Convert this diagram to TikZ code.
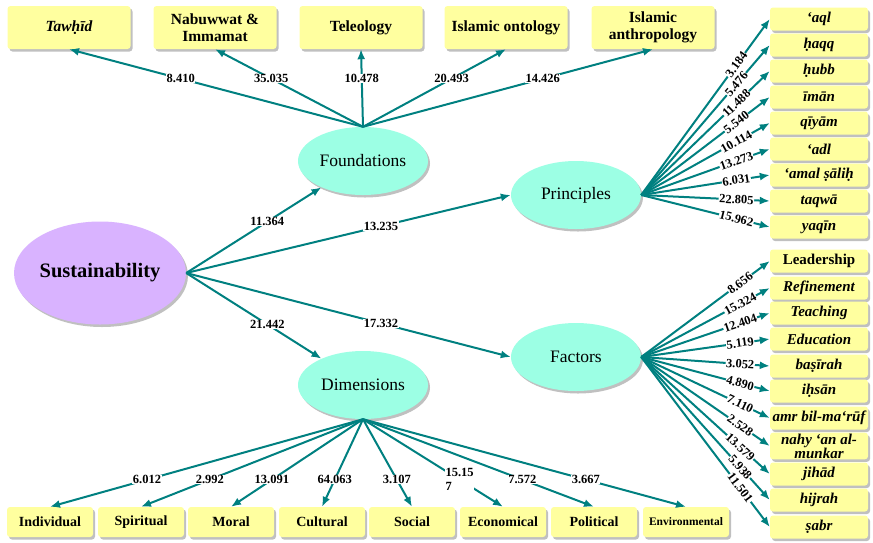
\documentclass[tikz,border=0pt]{standalone}
\usepackage{fontspec}
\setmainfont{Liberation Serif}
\usepackage{tikz}
\usetikzlibrary{arrows.meta}
\usetikzlibrary{shapes.geometric}
\usetikzlibrary{shadows}
\definecolor{linecolor}{HTML}{008080}
\definecolor{boxcolor}{HTML}{FFFF9F}
\definecolor{ovalcolor}{HTML}{9CFFE4}
\definecolor{rootcolor}{HTML}{D9B3FF}

\begin{document}
\begin{tikzpicture}[x=1pt,y=-1pt,
   shade/.style={drop shadow={shadow xshift=2pt,shadow yshift=-2.5pt,fill=black!45,opacity=.55}},
   box/.style={fill=boxcolor,rounded corners=3pt,inner sep=1pt,align=center,shade},
   topbox/.style={box,minimum width=123pt,minimum height=43pt,font=\fontsize{15.5}{17}\selectfont\bfseries},
   sidebox/.style={box,minimum width=98pt,minimum height=23pt,font=\fontsize{15}{14}\selectfont\bfseries\itshape},
   basebox/.style={box,minimum width=86pt,minimum height=30pt,font=\fontsize{14}{16}\selectfont\bfseries},
   oval/.style={ellipse,fill=ovalcolor,minimum width=130pt,minimum height=68pt,inner sep=0pt,font=\fontsize{17.5}{19}\selectfont,shade},
   link/.style={draw=linecolor,line width=2pt,-{Latex[length=10pt,width=8pt]}},
   num/.style={fill=white,inner sep=0.5pt,align=left,font=\fontsize{12.5}{14}\selectfont\bfseries}]
\useasboundingbox (0,0) rectangle (873,542);
%% ovals
\node[oval,fill=rootcolor,minimum width=172pt,minimum height=103pt,font=\fontsize{20.5}{22}\selectfont\bfseries] (sus) at (100,273) {Sustainability};
\node[oval] (fnd) at (363,161) {Foundations};
\node[oval] (prn) at (576,195) {Principles};
\node[oval] (dim) at (363,385) {Dimensions};
\node[oval] (fac) at (576,357) {Factors};
\draw[link] (sus.east) -- (fnd) node[num,pos=.6] {11.364};
\draw[link] (sus.east) -- (prn.west) node[num,pos=.6] {13.235};
\draw[link] (sus.east) -- (dim) node[num,pos=.6] {21.442};
\draw[link] (sus.east) -- (fac.west) node[num,pos=.6] {17.332};
%% foundations
\foreach \x/\name/\val [count=\i] in {69/{\itshape Tawḥīd}/8.410, 215/{Nabuwwat \&\\Immamat}/35.035, 361/Teleology/10.478, 506/Islamic ontology/20.493, 653/{Islamic\\anthropology}/14.426}
{
   \node[topbox] (t\i) at (\x,27.5) {\name};
   \draw[link] (fnd.north) -- (t\i.south) node[num,pos=.62] {\val};
}
%% principles
\foreach \y/\name/\val [count=\i] in {19/‘aql/3.184, 45/ḥaqq/5.476, 71/ḥubb/11.488, 97/īmān/5.540, 123/qīyām/10.114, 149/‘adl/13.273, 175/‘amal ṣāliḥ/6.031, 201/taqwā/22.805, 227/yaqīn/15.962}
{
   \node[sidebox] (p\i) at (819,\y) {\name};
   \draw[link] (prn.east) -- (p\i.west) node[num,pos=.74,sloped] {\val};
}
%% factors
\foreach \y/\name/\val [count=\i] in {261/{\upshape Leadership}/8.656, 288/Refinement/15.324, 313/Teaching/12.404, 339/Education/5.119, 366/baṣīrah/3.052, 391/iḥsān/4.890, 418/amr bil-ma‘rūf/7.110, 446/{nahy ‘an al-\\munkar}/2.528, 474/jihād/13.579, 500/hijrah/5.938, 527/ṣabr/11.501}
{
   \node[sidebox] (f\i) at (819,\y) {\name};
   \draw[link] (fac.east) -- (f\i.west) node[num,pos=.77,sloped] {\val};
}
%% dimensions
\foreach \x/\name/\val [count=\i] in {50/Individual/6.012, 141/Spiritual/2.992, 231/Moral/13.091, 322/Cultural/64.063, 412/Social/3.107, 503/Economical/{15.15\\7}, 594/Political/7.572, 686/{\fontsize{11.5}{13}\selectfont Environmental}/3.667}
{
   \node[basebox] (d\i) at (\x,522) {\name};
   \draw[link] (dim.south) -- (d\i.north) node[num,pos=.69] {\val};
}
\end{tikzpicture}
\end{document}
